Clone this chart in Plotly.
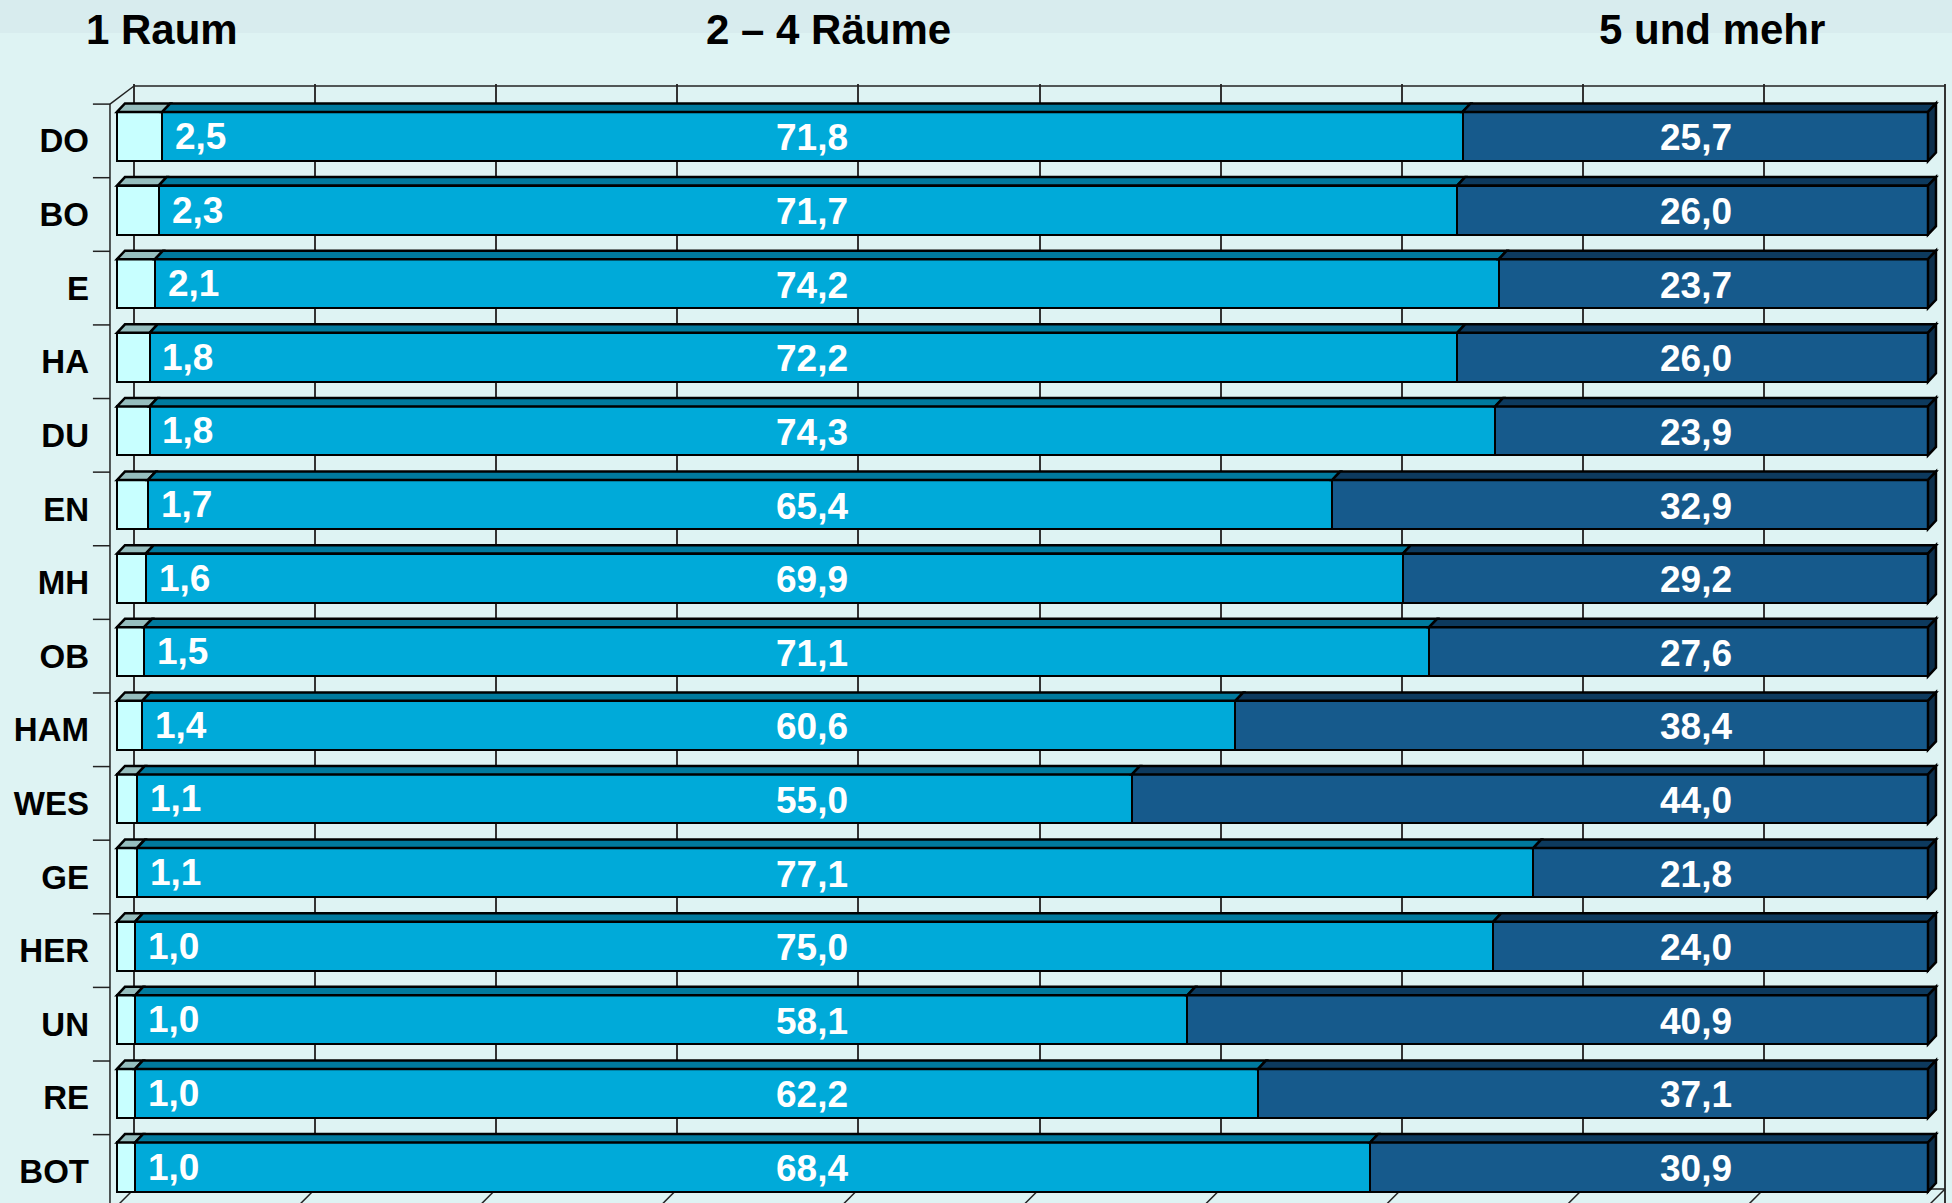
import plotly.graph_objects as go

# Anteil der Wohnungen nach Zahl der Räume (in %)
regions = ["DO", "BO", "E", "HA", "DU", "EN", "MH", "OB", "HAM", "WES", "GE", "HER", "UN", "RE", "BOT"]
raum_1 = [2.5, 2.3, 2.1, 1.8, 1.8, 1.7, 1.6, 1.5, 1.4, 1.1, 1.1, 1.0, 1.0, 1.0, 1.0]
raum_2_4 = [71.8, 71.7, 74.2, 72.2, 74.3, 65.4, 69.9, 71.1, 60.6, 55.0, 77.1, 75.0, 58.1, 62.2, 68.4]
raum_5_plus = [25.7, 26.0, 23.7, 26.0, 23.9, 32.9, 29.2, 27.6, 38.4, 44.0, 21.8, 24.0, 40.9, 37.1, 30.9]
series_names = ["1 Raum", "2 – 4 Räume", "5 und mehr"]

BG = "#def3f3"
FRONT = ["#c8ffff", "#00aad9", "#165a8c"]
TOP = ["#96bebe", "#007a9e", "#0d3a5e"]
SIDE = "#0c2f4c"
FONT = "Liberation Sans, Arial, sans-serif"

n = len(regions)
ypos = [n - 1 - i for i in range(n)]
bar_w = 0.666
dx, dy = 0.44, 0.115          # depth of the bar tops (data units)
wall_dx, wall_dy = 0.939, 0.245  # depth of the back wall

fig = go.Figure()
for name, vals, col in zip(series_names, [raum_1, raum_2_4, raum_5_plus], FRONT):
    fig.add_trace(go.Bar(
        y=ypos, x=vals, name=name, orientation="h", width=bar_w,
        marker=dict(color=col, line=dict(color="black", width=2.5)),
        hoverinfo="x+name", showlegend=False,
    ))

shapes = []
# floor (hides the grid below the back edge) and its diagonals
floor_y = -0.299
shapes.append(dict(
    type="path", xref="x", yref="y", layer="between",
    path=f"M {wall_dx},{floor_y} L {wall_dx + 100},{floor_y} L {100 + wall_dx - 0.994},{floor_y - wall_dy} "
         f"L {wall_dx - 0.994},{floor_y - wall_dy} Z",
    fillcolor=BG, line=dict(width=0),
))
for k in range(0, 101, 10):
    shapes.append(dict(type="line", xref="x", yref="y", layer="between",
                       x0=k + wall_dx, y0=floor_y, x1=k + wall_dx - 0.994, y1=floor_y - wall_dy,
                       line=dict(color="#222", width=1.5)))
shapes.append(dict(type="line", xref="x", yref="y", layer="between",
                   x0=wall_dx, y0=floor_y, x1=100 + wall_dx, y1=floor_y,
                   line=dict(color="#222", width=1.5)))

# back wall top edge, front axis, diagonal and ticks
top_y = 14.686
shapes.append(dict(type="line", xref="x", yref="y", x0=wall_dx, x1=100 + wall_dx, y0=top_y, y1=top_y,
                   line=dict(color="#222", width=1.5)))
shapes.append(dict(type="line", xref="x", yref="y", x0=-0.387, x1=-0.387, y0=n - 1 + 0.44, y1=-1,
                   line=dict(color="#222", width=1.5)))
shapes.append(dict(type="line", xref="x", yref="y", x0=-0.387, x1=wall_dx, y0=n - 1 + 0.44, y1=top_y,
                   line=dict(color="#222", width=1.5)))
for y in ypos:
    shapes.append(dict(type="line", xref="x", yref="y", x0=-1.33, x1=-0.387, y0=y + 0.44, y1=y + 0.44,
                       line=dict(color="#222", width=1.5)))

# 3D tops and right side of the bars (100 % stacked, like the bars)
for y, a, b, c in zip(ypos, raum_1, raum_2_4, raum_5_plus):
    tot = a + b + c
    yt = y + bar_w / 2
    yb = y - bar_w / 2
    edges = [0, a / tot * 100, (a + b) / tot * 100, 100]
    for j in range(3):
        x0, x1 = edges[j], edges[j + 1]
        shapes.append(dict(
            type="path", xref="x", yref="y", layer="above",
            path=f"M {x0},{yt} L {x0 + dx},{yt + dy} L {x1 + dx},{yt + dy} L {x1},{yt} Z",
            fillcolor=TOP[j], line=dict(color="black", width=2.5),
        ))
    xe = edges[3]
    shapes.append(dict(
        type="path", xref="x", yref="y", layer="above",
        path=f"M {xe},{yb} L {xe},{yt} L {xe + dx},{yt + dy} L {xe + dx},{yb + dy} Z",
        fillcolor=SIDE, line=dict(color="black", width=2.5),
    ))

# darker band at the top of the page
shapes.append(dict(type="rect", xref="paper", yref="paper", layer="below",
                   x0=-0.1, x1=1.1, y0=1.0455, y1=1.1, fillcolor="#d8ecee", line=dict(width=0)))

annotations = []
lab_font = dict(family=FONT, size=37, color="white", weight="bold")
for y, a, b, c in zip(ypos, raum_1, raum_2_4, raum_5_plus):
    annotations.append(dict(x=a + 0.6, y=y, xref="x", yref="y", text=f"{a:.1f}".replace(".", ","),
                            xanchor="left", yanchor="middle", showarrow=False, font=lab_font))
    annotations.append(dict(x=38.35, y=y - 0.02, xref="x", yref="y", text=f"{b:.1f}".replace(".", ","),
                            xanchor="center", yanchor="middle", showarrow=False, font=lab_font))
    annotations.append(dict(x=87.2, y=y - 0.02, xref="x", yref="y", text=f"{c:.1f}".replace(".", ","),
                            xanchor="center", yanchor="middle", showarrow=False, font=lab_font))

head_font = dict(family=FONT, size=42, color="black", weight="bold")
for name, hx in zip(series_names, [2.5, 39.3, 88.1]):
    annotations.append(dict(x=hx, y=1.049, xref="x", yref="paper", text=name, xanchor="center",
                            yanchor="middle", showarrow=False, font=head_font))

fig.update_layout(
    width=1952, height=1203, autosize=False,
    margin=dict(l=92, r=2, t=84, b=0),
    paper_bgcolor=BG, plot_bgcolor=BG,
    barmode="stack", barnorm="percent", bargap=0,
    xaxis=dict(range=[-1.380, 101.215], showgrid=False, zeroline=False, showticklabels=False,
               showline=False, fixedrange=True),
    xaxis2=dict(range=[-2.319, 100.276], overlaying="x", side="top", showgrid=True,
                gridcolor="#333", gridwidth=1.5, tickvals=list(range(0, 101, 10)),
                showticklabels=False, zeroline=False, showline=False, ticks=""),
    yaxis=dict(range=[-0.489, 14.713], tickvals=[y - 0.06 for y in ypos], ticktext=regions,
               showgrid=False, zeroline=False, showline=False, ticks="", ticklabelstandoff=2,
               tickfont=dict(family=FONT, size=33, color="black", weight="bold")),
    shapes=shapes, annotations=annotations,
)
# invisible trace to activate the back-wall axis
fig.add_trace(go.Scatter(x=[0], y=[0], xaxis="x2", mode="markers", marker=dict(opacity=0),
                         showlegend=False, hoverinfo="skip"))

fig.write_html("out.html", config={"displayModeBar": False},
               post_script="document.body.style.margin='0';document.body.style.overflow='hidden';")
